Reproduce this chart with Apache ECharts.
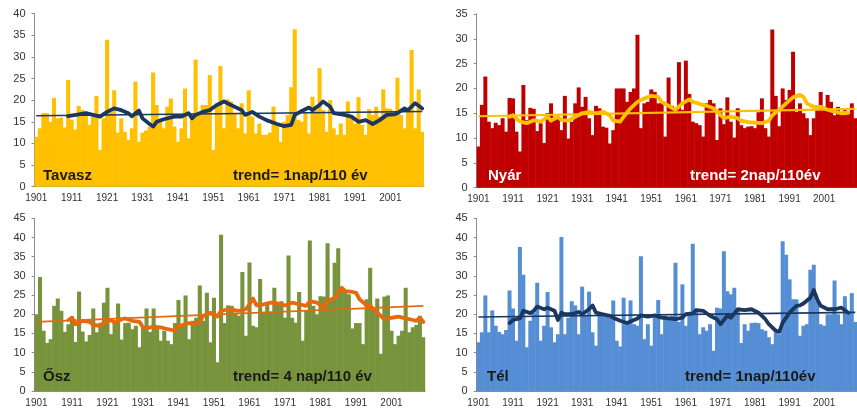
<!DOCTYPE html>
<html>
<head>
<meta charset="utf-8">
<script src="https://cdn.jsdelivr.net/npm/echarts@6/dist/echarts.min.js"></script>
<style>
  html, body { margin: 0; padding: 0; background: #fff; }
  #chart { width: 857px; height: 408px; }
</style>
</head>
<body>
<div id="chart"></div>
<script>
// years 1901..2010
const years = [];
for (let y = 1901; y <= 2010; y++) years.push(String(y));

// Tavasz (spring)
const tavasz = [11.5, 13.5, 17, 17, 15, 20.5, 15.8, 16, 13.7, 24.7,
  15.5, 13.2, 18.7, 17.7, 17.3, 14.3, 16.2, 21, 8.5, 15.8,
  34, 17.3, 22.3, 12.5, 15.8, 12.7, 10.8, 13.5, 24.3, 10.4,
  12.5, 13, 13.9, 26.4, 18.9, 15, 13.5, 18.5, 20.4, 13.9,
  10.4, 13.5, 22.7, 11.2, 16.2, 29.4, 17.3, 18.9, 18.9, 25.8,
  8.5, 19.3, 27.9, 13.5, 20.2, 19.7, 17, 13.5, 19.3, 12.3,
  22.3, 16.2, 12.3, 14.6, 12, 12, 12.5, 18.5, 14.6, 10.4,
  15, 16.6, 23, 36.4, 15.4, 15, 17.3, 12.3, 20.8, 17.7,
  27.4, 17.7, 12.7, 20, 13.5, 12, 14.6, 12, 19.7, 15.8,
  14.6, 20.7, 14.3, 12, 17.9, 16.6, 18.5, 16.2, 22.5, 18.1,
  18, 16.6, 25.2, 16.6, 13.5, 18.1, 31.6, 13.5, 22.5, 12.7];
const tavaszAvg = [[1910,16.3],[1913,16.7],[1915,17],[1917,16.6],[1919,16.2],[1921,17.3],[1923,18.1],
  [1925,17.7],[1927,17],[1928,16.3],[1930,17.6],[1931,15.8],[1933,14.5],[1934,13.9],[1935,15],[1937,15.6],
  [1939,16],[1940,16.2],[1942,16.2],[1944,17],[1945,15.8],[1946,16.6],[1948,17.3],[1950,17.7],[1951,18.3],
  [1952,18.9],[1954,19.7],[1956,18.9],[1957,18.5],[1959,17.7],[1960,16.6],[1962,17.3],[1964,16.2],
  [1966,15.4],[1968,14.8],[1969,14.5],[1971,14],[1973,14.3],[1974,16.6],[1976,17.5],[1978,18.3],
  [1979,17.7],[1981,18.9],[1982,19.7],[1984,18.5],[1985,17],[1988,16.6],[1990,16.2],[1992,15],
  [1994,15.4],[1996,14.5],[1998,15.4],[2000,16.6],[2002,16.7],[2003,17],[2005,18.1],[2006,17.7],
  [2008,19.3],[2009,18.7],[2010,18.1]];
const tavaszTrend = [[1901,16.4],[2010,17.4]];

// Nyár (summer)
const nyar = [8.3, 16.7, 22.4, 13.3, 12, 13.1, 12.6, 14, 11.3, 18.1,
  18, 11.3, 7.3, 20.7, 13.6, 16.1, 15.9, 11.4, 13, 9,
  15, 17, 14.3, 14, 11.6, 18.5, 9.9, 13.3, 17, 20.2,
  16.3, 18.3, 14, 10.6, 16.5, 16, 12.3, 12.1, 8.9, 11.6,
  20, 20, 20, 17.3, 19.3, 20, 30.8, 12, 17, 17.3,
  19.8, 19.3, 17, 17.1, 10.3, 22.2, 16.5, 16, 25.3, 15.7,
  25.6, 18.9, 13.3, 13, 12.6, 10.3, 17, 17.7, 17, 9.6,
  16, 12.8, 18.2, 13.3, 10.1, 16, 12.6, 12, 12.3, 12.4,
  12, 15.2, 18, 12, 10.3, 31.9, 18.5, 12.4, 20, 17.7,
  19.7, 27.4, 15.3, 17, 15, 14, 10.6, 14, 15.7, 19.3,
  15.7, 18.7, 17.3, 14.6, 16.3, 15, 15.7, 15.2, 17, 14];
const nyarAvg = [[1910,14.3],[1911,14.6],[1913,13.3],[1915,13],[1917,13.6],[1919,13.3],[1921,14.3],
  [1922,13.5],[1924,14.3],[1925,13.6],[1927,13.5],[1929,14.3],[1931,15],[1933,15.3],[1935,15],[1937,15.3],
  [1939,14.6],[1940,13.5],[1942,13.3],[1943,14.3],[1945,16],[1947,17.3],[1949,18],[1951,18.5],[1953,18.3],
  [1954,17.3],[1956,16.5],[1958,15.7],[1960,17],[1962,17.8],[1963,17.3],[1965,16.9],[1967,16.5],
  [1969,16],[1970,15.3],[1972,14],[1974,14.3],[1976,14],[1977,13.5],[1979,13.2],[1981,13.1],[1983,13],
  [1985,13.5],[1986,14.6],[1988,15.7],[1990,17],[1992,18.2],[1994,18.7],[1995,18.3],[1996,17],
  [1998,16.3],[2000,16.3],[2002,15.7],[2004,15.3],[2006,15],[2008,15.1]];
const nyarTrend = [[1901,14.4],[2010,15.9]];

// Ősz (autumn)
const osz = [20, 29.7, 15.7, 12.5, 13.5, 22.2, 24.1, 20.9, 15.4, 17.4,
  19.4, 12.8, 25.9, 15.5, 12.9, 14.6, 21.5, 15.3, 17.8, 23,
  26.9, 14.8, 18.3, 22.8, 13.4, 17.7, 17.8, 16.1, 17, 11.4,
  16.4, 21.5, 15.4, 21.5, 16.6, 13.1, 15.7, 13.1, 12.2, 17.7,
  23.7, 17.4, 24.9, 13.5, 18.3, 19.1, 27.5, 18.3, 25.6, 12.7,
  24.3, 7.5, 40.7, 17.7, 22.3, 22.2, 20.4, 19.6, 31, 14.4,
  33.5, 17, 16.6, 29.2, 20.4, 23, 20.4, 26.9, 22.6, 23.4,
  19.1, 35.3, 19.1, 17.8, 25.8, 13.1, 20.9, 39.2, 22.2, 20,
  24.7, 24.6, 38.5, 23.9, 33.4, 37.2, 26.5, 26, 25.2, 16.3,
  17.7, 17.7, 12.2, 23.9, 32.1, 21.3, 24.1, 9.7, 24.6, 24.9,
  15.7, 12.2, 14.4, 15.7, 26.9, 15.3, 16.6, 17.2, 19.6, 14];
const oszAvg = [[1910,18.5],[1911,19.1],[1912,17.4],[1914,18.3],[1916,18],[1917,17.2],[1919,17],
  [1920,17.8],[1922,18.5],[1923,17.8],[1925,18.7],[1926,18.9],[1928,18.3],[1930,18],[1931,16.6],
  [1932,16.3],[1934,16.8],[1936,16.6],[1938,16.1],[1940,15.7],[1941,17],[1942,17.2],[1944,17.7],
  [1945,17.4],[1947,18],[1948,19.6],[1950,20.4],[1952,19.4],[1953,20.9],[1955,21.3],[1958,20.9],
  [1960,21.3],[1961,22.6],[1962,24.1],[1963,22.3],[1965,22.6],[1967,23],[1969,22.8],[1971,22.3],
  [1973,23],[1975,22.6],[1977,22.2],[1978,23.4],[1980,23],[1982,21.7],[1983,23.4],[1985,24.3],
  [1987,26.9],[1988,26],[1990,25.8],[1991,25.6],[1992,23.9],[1994,22.3],[1995,22.2],[1997,20.4],
  [1999,18.7],[2000,18.9],[2003,19.4],[2005,18.9],[2007,18.5],[2008,18.3],[2009,19.1],[2010,18]];
const oszTrend = [[1901,18],[2010,22.2]];

// Tél (winter)
const tel = [12.7, 15.3, 24.9, 15.3, 21, 17, 15.4, 14.8, 15.9, 26.2,
  21.5, 13.1, 37.5, 30.3, 11.4, 18.3, 20.4, 28.2, 13.1, 17,
  25.8, 16.6, 12.7, 14.8, 40.1, 14.8, 19.1, 23.4, 22.3, 14.8,
  27.2, 19.6, 25.9, 15.3, 11.8, 20.4, 20, 19.6, 19.1, 23.6,
  13.1, 11.6, 24.3, 17.4, 23.6, 17.4, 17, 35.1, 13.5, 17.4,
  11.8, 20, 23.7, 14.8, 19.6, 19.1, 19.6, 33.4, 18, 27.8,
  17, 20, 38.4, 21.3, 14.8, 16.6, 15.7, 17.4, 10.5, 21.7,
  21.5, 36.4, 26, 25.2, 26.9, 21.3, 12.5, 17.4, 15.7, 17.7,
  17.8, 17.7, 16.1, 15.7, 14, 12.2, 15.3, 14.8, 39, 35.5,
  29.1, 23.9, 23.9, 14.4, 17, 17.4, 31.6, 32.9, 23.4, 17.4,
  17, 20, 20, 28.8, 20, 17.4, 24.7, 20.4, 25.5, 18];
const telAvg = [[1910,17.7],[1911,18.5],[1913,18.9],[1914,20.9],[1916,20.3],[1917,20.9],[1918,22],
  [1920,21.3],[1921,21.7],[1923,20.9],[1924,18.5],[1925,20.4],[1926,20],[1928,20],[1930,20.6],[1931,20],
  [1933,21.3],[1934,22.3],[1935,20.4],[1937,20],[1939,19.6],[1940,19.1],[1942,18.3],[1944,17.7],
  [1946,18.5],[1947,18.9],[1948,19.7],[1950,19.4],[1952,19.7],[1954,19.1],[1956,18.9],[1958,18.7],
  [1960,19.1],[1961,20],[1963,20.2],[1964,21.1],[1966,20.9],[1968,19.6],[1970,18.7],[1971,17.4],
  [1973,19.6],[1974,19.1],[1976,21.3],[1978,21.1],[1980,21.3],[1982,20.4],[1984,18.7],[1985,17.4],
  [1987,15.7],[1988,15.4],[1989,17.8],[1991,20.4],[1993,22.2],[1994,22.3],[1995,22.8],[1997,24.3],
  [1998,26.3],[1999,23.9],[2000,22.2],[2002,21.3],[2004,21.3],[2006,21.7],[2008,20.4]];
const telTrend = [[1901,19.3],[2010,20.5]];

const panels = [
  { name: 'Tavasz', trendText: 'trend= 1nap/110 év', bars: tavasz, avg: tavaszAvg, trend: tavaszTrend,
    max: 40, grid: { left: 34.5, top: 13.7, width: 389.5, height: 173 },
    barColor: '#FFC000', lineColor: '#1B365F', trendWidth: 1.6, textColor: '#1a1a1a',
    nameX: 43, trendX: 233, textY: 176 },
  { name: 'Nyár', trendText: 'trend= 2nap/110év', bars: nyar, avg: nyarAvg, trend: nyarTrend,
    max: 35, grid: { left: 476.7, top: 14, width: 390.5, height: 173.7 },
    barColor: '#C00000', lineColor: '#FFC000', trendWidth: 2.2, textColor: '#fff',
    nameX: 488, trendX: 690, textY: 176 },
  { name: 'Ősz', trendText: 'trend= 4 nap/110 év', bars: osz, avg: oszAvg, trend: oszTrend,
    max: 45, grid: { left: 34.7, top: 218.3, width: 390.5, height: 174 },
    barColor: '#77933C', lineColor: '#E8680C', trendWidth: 1.8, textColor: '#1a1a1a',
    nameX: 43, trendX: 233, textY: 377 },
  { name: 'Tél', trendText: 'trend= 1nap/110év', bars: tel, avg: telAvg, trend: telTrend,
    max: 45, grid: { left: 476.7, top: 218.3, width: 390.5, height: 174 },
    barColor: '#558ED5', lineColor: '#1B365F', trendWidth: 1.6, textColor: '#1a1a1a',
    nameX: 487, trendX: 685, textY: 377 }
];

const font = 'Arial, "Liberation Sans", sans-serif';
const axisGray = '#8c8c8c';
const toPairs = arr => arr.map(p => [String(p[0]), p[1]]);

const option = {
  animation: false,
  backgroundColor: '#fff',
  grid: [], xAxis: [], yAxis: [], series: [], graphic: []
};

panels.forEach((p, i) => {
  option.grid.push(p.grid);
  option.xAxis.push({
    type: 'category', gridIndex: i, data: years, boundaryGap: true,
    axisLine: { lineStyle: { color: axisGray, width: 1 } },
    axisTick: { interval: 9, length: 3, lineStyle: { color: axisGray } },
    axisLabel: { interval: 9, margin: 7, fontSize: 10, color: '#333', fontFamily: font }
  });
  option.yAxis.push({
    type: 'value', gridIndex: i, min: 0, max: p.max, interval: 5,
    splitLine: { show: false },
    axisLine: { show: true, lineStyle: { color: axisGray, width: 1 } },
    axisTick: { show: true, length: 3, lineStyle: { color: axisGray } },
    axisLabel: { margin: 9, fontSize: 11, color: '#333', fontFamily: font }
  });
  option.series.push({
    type: 'bar', xAxisIndex: i, yAxisIndex: i, data: p.bars,
    barWidth: '115%', itemStyle: { color: p.barColor }
  });
  option.series.push({
    type: 'line', xAxisIndex: i, yAxisIndex: i, data: toPairs(p.trend),
    symbol: 'none', lineStyle: { color: p.lineColor, width: p.trendWidth }, z: 3
  });
  option.series.push({
    type: 'line', xAxisIndex: i, yAxisIndex: i, data: toPairs(p.avg),
    symbol: 'none', lineStyle: { color: p.lineColor, width: 3.8, cap: 'round', join: 'round' }, z: 4
  });
  option.graphic.push({
    type: 'text', x: p.nameX, y: p.textY, z: 10,
    style: { text: p.name, fill: p.textColor, font: 'bold 15px ' + font, verticalAlign: 'middle' }
  });
  option.graphic.push({
    type: 'text', x: p.trendX, y: p.textY, z: 10,
    style: { text: p.trendText, fill: p.textColor, font: 'bold 15px ' + font, verticalAlign: 'middle' }
  });
});

const chart = echarts.init(document.getElementById('chart'), null, { renderer: 'canvas' });
chart.setOption(option);
</script>
</body>
</html>
